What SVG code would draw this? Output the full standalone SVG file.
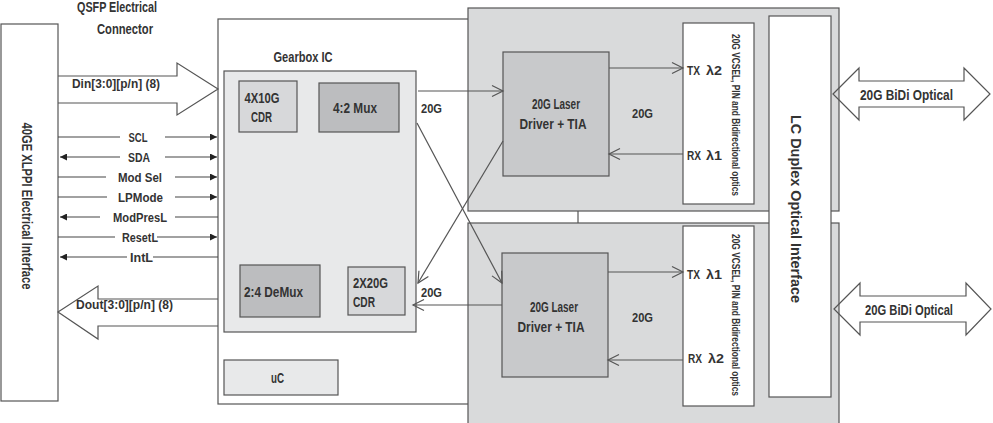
<svg xmlns="http://www.w3.org/2000/svg" width="993" height="423" viewBox="0 0 993 423">
  <defs>
    <style>
      .t { font-family: "Liberation Sans", Arial, sans-serif; font-weight: bold; fill: #333; }
      .s13 { font-size: 13px; }
      .s14 { font-size: 14px; }
      .s15 { font-size: 15px; }
      .s11 { font-size: 11.5px; }
      .mid { text-anchor: middle; }
      .ln { stroke: #555; stroke-width: 1.2; fill: none; }
      .box { stroke: #555; stroke-width: 1.2; }
      .white { fill: #fff; }
      .panel { fill: #d9dadb; }
      .gear { fill: #e8e9ea; }
      .light { fill: #d7d8da; }
      .dark { fill: #bcbdbf; }
      .drv { fill: #c8c9cb; }
      .sig { stroke: #444; stroke-width: 1.1; fill: none; }
    </style>
    <marker id="fa" viewBox="0 0 10 10" refX="10" refY="5" markerWidth="9" markerHeight="7" markerUnits="userSpaceOnUse" orient="auto-start-reverse">
      <path d="M0,0 L10,5 L0,10 z" fill="#222"/>
    </marker>
    <marker id="oa" viewBox="0 0 12 12" refX="11" refY="6" markerWidth="12" markerHeight="12" markerUnits="userSpaceOnUse" orient="auto" overflow="visible">
      <path d="M0,0.5 L11,6 L0,11.5" fill="none" stroke="#555" stroke-width="1.2"/>
    </marker>
  </defs>

  <rect x="0" y="0" width="993" height="423" fill="#fff"/>

  <!-- QSFP connector caption -->
  <g id="qsfp-caption">
    <text class="t s14 mid" x="117" y="12" textLength="80" lengthAdjust="spacingAndGlyphs">QSFP Electrical</text>
    <text class="t s14 mid" x="125" y="34" textLength="56" lengthAdjust="spacingAndGlyphs">Connector</text>
  </g>

  <!-- host-side electrical interface -->
  <g id="xlppi">
    <rect class="box white" x="1" y="24" width="57" height="377"/>
    <text class="t s14 mid" transform="translate(22,206) rotate(90)" x="0" y="0" textLength="167" lengthAdjust="spacingAndGlyphs">40GE XLPPI Electrical Interface</text>
  </g>

  <!-- module outline -->
  <g id="module">
    <rect class="box white" x="218" y="19" width="552" height="385"/>
  </g>

  <!-- optical sub-assembly panels -->
  <g id="osa-top">
    <rect class="box panel" x="468" y="8" width="371" height="203"/>
  </g>
  <g id="osa-bottom">
    <rect class="box panel" x="468" y="223" width="371" height="210"/>
  </g>
  <line class="ln" x1="578" y1="211" x2="578" y2="223"/>

  <!-- gearbox IC -->
  <g id="gearbox">
    <text class="t s15 mid" x="303" y="62" textLength="59" lengthAdjust="spacingAndGlyphs">Gearbox IC</text>
    <rect class="box gear" x="224" y="71" width="192" height="261"/>
  </g>
  <g id="cdr-4x10g">
    <rect class="box light" x="239" y="81" width="58" height="51"/>
    <text class="t s14 mid" x="262" y="103" textLength="35" lengthAdjust="spacingAndGlyphs">4X10G</text>
    <text class="t s14 mid" x="261.5" y="122" textLength="21" lengthAdjust="spacingAndGlyphs">CDR</text>
  </g>
  <g id="mux">
    <rect class="box dark" x="319" y="83" width="80" height="49"/>
    <text class="t s14 mid" x="355" y="113" textLength="44" lengthAdjust="spacingAndGlyphs" fill="#444">4:2 Mux</text>
  </g>
  <g id="demux">
    <rect class="box dark" x="240" y="265" width="80" height="52"/>
    <text class="t s15" x="244" y="297" textLength="59" lengthAdjust="spacingAndGlyphs" fill="#444">2:4 DeMux</text>
  </g>
  <g id="cdr-2x20g">
    <rect class="box light" x="348" y="267" width="57" height="48"/>
    <text class="t s14" x="353" y="288" textLength="35" lengthAdjust="spacingAndGlyphs">2X20G</text>
    <text class="t s14" x="353" y="307" textLength="22" lengthAdjust="spacingAndGlyphs">CDR</text>
  </g>
  <g id="uc">
    <rect class="box gear" x="224" y="360" width="114" height="35"/>
    <text class="t s15 mid" x="277.5" y="383" textLength="13" lengthAdjust="spacingAndGlyphs">uC</text>
  </g>

  <!-- laser driver / TIA blocks -->
  <g id="driver-top">
    <rect class="box drv" x="503" y="52" width="106" height="124"/>
    <text class="t s15 mid" x="556" y="109" textLength="48" lengthAdjust="spacingAndGlyphs" fill="#444">20G Laser</text>
    <text class="t s15 mid" x="553" y="129" textLength="67" lengthAdjust="spacingAndGlyphs" fill="#444">Driver + TIA</text>
  </g>
  <g id="driver-bottom">
    <rect class="box drv" x="502" y="253" width="106" height="124"/>
    <text class="t s15 mid" x="554" y="312" textLength="48" lengthAdjust="spacingAndGlyphs" fill="#444">20G Laser</text>
    <text class="t s15 mid" x="551" y="332" textLength="67" lengthAdjust="spacingAndGlyphs" fill="#444">Driver + TIA</text>
  </g>

  <!-- optics blocks -->
  <g id="optics-top">
    <rect class="box white" x="683" y="23" width="71" height="181"/>
    <text class="t s13" x="687" y="75" textLength="13" lengthAdjust="spacingAndGlyphs">TX</text>
    <text class="t s13" x="706" y="75" textLength="16" lengthAdjust="spacingAndGlyphs">λ2</text>
    <text class="t s13" x="687" y="160" textLength="14" lengthAdjust="spacingAndGlyphs">RX</text>
    <text class="t s13" x="706" y="160" textLength="16" lengthAdjust="spacingAndGlyphs">λ1</text>
    <text class="t s11 mid" transform="translate(732,115) rotate(90)" x="0" y="0" textLength="162" lengthAdjust="spacingAndGlyphs">20G VCSEL, PIN and Bidirectional optics</text>
  </g>
  <g id="optics-bottom">
    <rect class="box white" x="683" y="226" width="71" height="180"/>
    <text class="t s13" x="687" y="279" textLength="13" lengthAdjust="spacingAndGlyphs">TX</text>
    <text class="t s13" x="706" y="279" textLength="16" lengthAdjust="spacingAndGlyphs">λ1</text>
    <text class="t s13" x="688" y="363" textLength="14" lengthAdjust="spacingAndGlyphs">RX</text>
    <text class="t s13" x="708" y="363" textLength="16" lengthAdjust="spacingAndGlyphs">λ2</text>
    <text class="t s11 mid" transform="translate(732,315) rotate(90)" x="0" y="0" textLength="162" lengthAdjust="spacingAndGlyphs">20G VCSEL, PIN and Bidirectional optics</text>
  </g>

  <!-- LC duplex receptacle -->
  <g id="lc-duplex">
    <rect class="box white" x="769" y="16" width="62" height="381"/>
    <text class="t s15 mid" transform="translate(791,209) rotate(90)" x="0" y="0" textLength="188" lengthAdjust="spacingAndGlyphs">LC Duplex Optical Interface</text>
  </g>

  <!-- connectors -->
  <g id="connectors">
    <!-- wide bus arrows -->
    <path class="ln" d="M58,76 H177 V63 L218,89 L177,115 V103 H58" fill="#fff"/>
    <text class="t s13" x="72" y="88" textLength="88" lengthAdjust="spacingAndGlyphs">Din[3:0][p/n] (8)</text>
    <path class="ln" d="M218,299 H98 V286 L58,312 L98,339 V326 H218" fill="#fff"/>
    <text class="t s13" x="76" y="309" textLength="97" lengthAdjust="spacingAndGlyphs">Dout[3:0][p/n] (8)</text>

    <!-- management signals -->
    <line class="sig" x1="58" y1="137" x2="120" y2="137"/>
    <line class="sig" x1="165" y1="137" x2="217" y2="137" marker-end="url(#fa)"/>
    <text class="t s13 mid" x="138" y="141.5" textLength="19" lengthAdjust="spacingAndGlyphs">SCL</text>

    <line class="sig" x1="60" y1="157" x2="120" y2="157" marker-start="url(#fa)"/>
    <line class="sig" x1="165" y1="157" x2="217" y2="157" marker-end="url(#fa)"/>
    <text class="t s13 mid" x="139" y="161.5" textLength="22" lengthAdjust="spacingAndGlyphs">SDA</text>

    <line class="sig" x1="58" y1="177" x2="106" y2="177"/>
    <line class="sig" x1="175" y1="177" x2="217" y2="177" marker-end="url(#fa)"/>
    <text class="t s13 mid" x="140" y="181.5" textLength="44" lengthAdjust="spacingAndGlyphs">Mod Sel</text>

    <line class="sig" x1="58" y1="197" x2="107" y2="197"/>
    <line class="sig" x1="175" y1="197" x2="217" y2="197" marker-end="url(#fa)"/>
    <text class="t s13 mid" x="140.5" y="201.5" textLength="45" lengthAdjust="spacingAndGlyphs">LPMode</text>

    <line class="sig" x1="60" y1="217" x2="100" y2="217" marker-start="url(#fa)"/>
    <line class="sig" x1="175" y1="217" x2="218" y2="217"/>
    <text class="t s13 mid" x="140" y="221.5" textLength="54" lengthAdjust="spacingAndGlyphs">ModPresL</text>

    <line class="sig" x1="58" y1="237" x2="115" y2="237"/>
    <line class="sig" x1="157" y1="237" x2="217" y2="237" marker-end="url(#fa)"/>
    <text class="t s13 mid" x="140" y="241.5" textLength="36" lengthAdjust="spacingAndGlyphs">ResetL</text>

    <line class="sig" x1="60" y1="257" x2="127" y2="257" marker-start="url(#fa)"/>
    <line class="sig" x1="153" y1="257" x2="218" y2="257"/>
    <text class="t s13 mid" x="141.5" y="261.5" textLength="23" lengthAdjust="spacingAndGlyphs">IntL</text>

    <!-- 20G lanes between gearbox and drivers -->
    <line class="ln" x1="418" y1="91" x2="503" y2="91" marker-end="url(#oa)"/>
    <line class="ln" x1="417" y1="123" x2="502" y2="283" marker-end="url(#oa)"/>
    <line class="ln" x1="503" y1="141" x2="418" y2="283" marker-end="url(#oa)"/>
    <line class="ln" x1="502" y1="305" x2="413" y2="305" marker-end="url(#oa)"/>
    <text class="t s13" x="421" y="113" textLength="21" lengthAdjust="spacingAndGlyphs">20G</text>
    <text class="t s13" x="421" y="297" textLength="21" lengthAdjust="spacingAndGlyphs">20G</text>

    <!-- driver to optics -->
    <line class="ln" x1="609" y1="68" x2="683" y2="68" marker-end="url(#oa)"/>
    <line class="ln" x1="683" y1="154" x2="609" y2="154" marker-end="url(#oa)"/>
    <text class="t s13" x="632" y="118" textLength="21" lengthAdjust="spacingAndGlyphs">20G</text>
    <line class="ln" x1="608" y1="272" x2="683" y2="272" marker-end="url(#oa)"/>
    <line class="ln" x1="683" y1="360" x2="608" y2="360" marker-end="url(#oa)"/>
    <text class="t s13" x="632" y="322" textLength="21" lengthAdjust="spacingAndGlyphs">20G</text>

    <!-- line-side optical ports -->
    <path class="ln" d="M833,94 L859,68 V81 H964 V68 L990,94 L964,120 V107 H859 V120 Z" fill="#fff"/>
    <text class="t s14" x="860" y="100" textLength="93" lengthAdjust="spacingAndGlyphs">20G BiDi Optical</text>
    <path class="ln" d="M834,309 L860,283 V296 H966 V283 L991,309 L966,335 V322 H860 V335 Z" fill="#fff"/>
    <text class="t s14" x="865" y="315" textLength="88" lengthAdjust="spacingAndGlyphs">20G BiDi Optical</text>
  </g>
</svg>
